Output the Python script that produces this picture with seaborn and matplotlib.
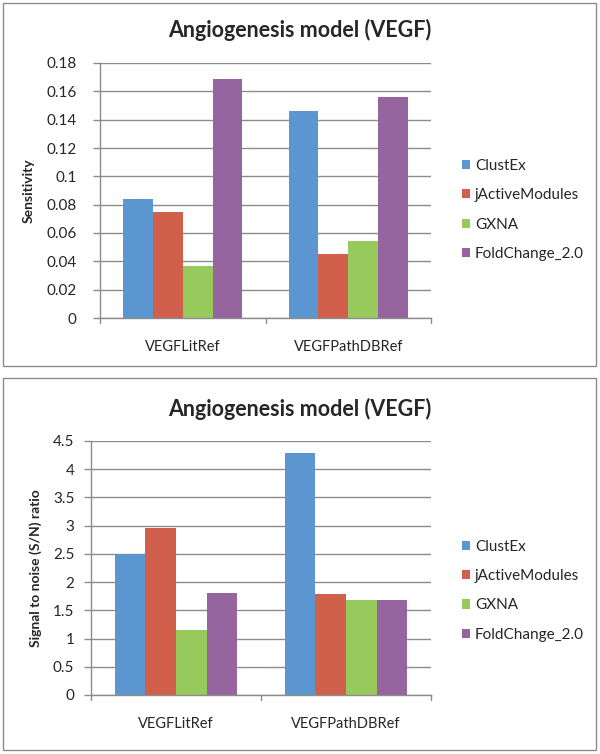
import pandas as pd
import seaborn as sns
import matplotlib.pyplot as plt
from matplotlib.patches import Rectangle

# data
categorias = ["VEGFLitRef", "VEGFPathDBRef"]
metodos = ["ClustEx", "jActiveModules", "GXNA", "FoldChange_2.0"]
sensibilidad = {
    "ClustEx": [0.084, 0.146],
    "jActiveModules": [0.075, 0.045],
    "GXNA": [0.037, 0.054],
    "FoldChange_2.0": [0.169, 0.156],
}
senal_ruido = {
    "ClustEx": [2.49, 4.29],
    "jActiveModules": [2.96, 1.79],
    "GXNA": [1.16, 1.68],
    "FoldChange_2.0": [1.81, 1.68],
}
colores = ["#5B96D0", "#D0604C", "#97C95D", "#9665A0"]

sns.set_theme(style="white")
plt.rcParams['font.family'] = ['Lato', 'DejaVu Sans']


def tabla(valores):
    filas = []
    for m in metodos:
        for c, v in zip(categorias, valores[m]):
            filas.append({"Ref": c, "Metodo": m, "Valor": v})
    return pd.DataFrame(filas)


fig = plt.figure(figsize=(6, 7.54), dpi=100)

# marcos de cada panel
for y0, y1 in [(3, 366), (378, 750)]:
    fig.patches.append(Rectangle((3 / 600, 1 - y1 / 754), 593 / 600, (y1 - y0) / 754,
                                 transform=fig.transFigure, fill=False,
                                 edgecolor="#8c8c8c", linewidth=1.0))

paneles = [
    (sensibilidad, [100 / 600, 1 - 318 / 754, 331 / 600, 255 / 754],
     0.18, 0.02, "Sensitivity", 1 - 30 / 754, 0.424, 12),
    (senal_ruido, [91 / 600, 1 - 695 / 754, 340 / 600, 254 / 754],
     4.5, 0.5, "Signal to noise (S/N) ratio", 1 - 409 / 754, 0.41, 7),
]

for valores, pos, ymax, paso, ylab, ytit, yley, padtick in paneles:
    ax = fig.add_axes(pos)
    datos = tabla(valores)
    sns.barplot(data=datos, x="Ref", y="Valor", hue="Metodo", palette=colores,
                width=0.72, saturation=1, ax=ax, legend=True)
    for p in ax.patches:
        p.set_edgecolor("none")
    ticks = [round(i * paso, 4) for i in range(int(round(ymax / paso)) + 1)]
    ax.set_ylim(0, ymax)
    ax.set_yticks(ticks)
    ax.set_yticklabels(["{:g}".format(t) for t in ticks], fontsize=11)
    ax.set_xlim(-0.5, 1.5)
    ax.set_xlabel("")
    ax.set_ylabel(ylab, fontsize=10, fontweight="bold", labelpad=8)
    ax.tick_params(axis="x", length=0, labelsize=10.5, pad=16)
    ax.tick_params(axis="y", left=True, length=5, width=1, color="#8c8c8c", pad=padtick)
    for x in [-0.5, 0.5, 1.5]:
        ax.plot([x, x], [0, -ymax * 0.02], color="#8c8c8c", lw=1, clip_on=False)
    ax.grid(axis="y", color="#8c8c8c", linewidth=1)
    ax.set_axisbelow(True)
    for s in ["top", "right"]:
        ax.spines[s].set_visible(False)
    for s in ["left", "bottom"]:
        ax.spines[s].set_color("#8c8c8c")
        ax.spines[s].set_linewidth(1)
    ancho = pos[2] * 600
    ax.legend(loc="center left", bbox_to_anchor=((462 - pos[0] * 600) / ancho, yley),
              frameon=False, fontsize=11, borderpad=0, borderaxespad=0,
              handlelength=0.55, handleheight=0.55,
              labelspacing=1.0, handletextpad=0.3)
    fig.text(0.5, ytit, "Angiogenesis model (VEGF)", ha="center", va="center",
             fontsize=15.5, fontweight="bold")

fig.savefig("out.png", dpi=100)
